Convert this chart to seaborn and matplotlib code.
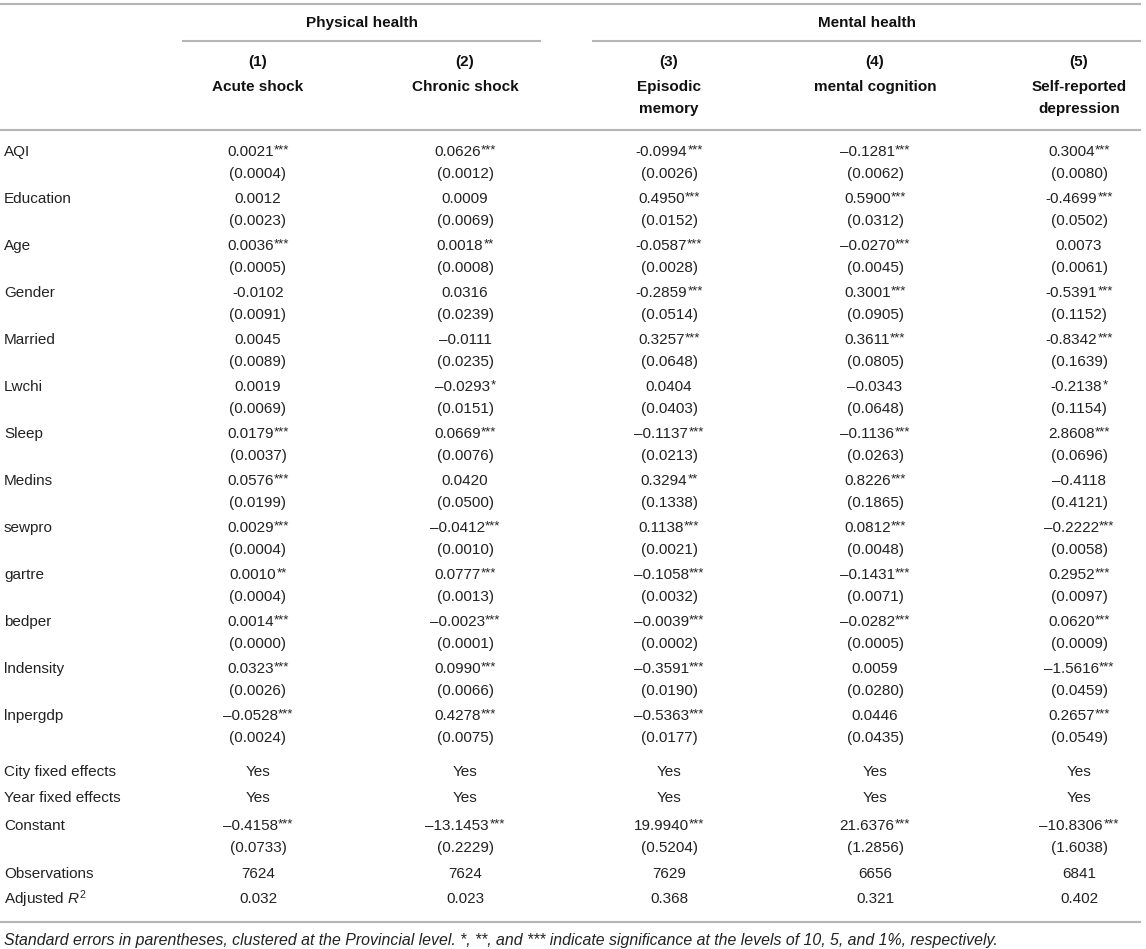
import matplotlib
matplotlib.use('agg')
import matplotlib.pyplot as plt
import seaborn as sns

# ---- table content ----
variables = ['AQI', 'Education', 'Age', 'Gender', 'Married', 'Lwchi', 'Sleep',
             'Medins', 'sewpro', 'gartre', 'bedper', 'lndensity', 'lnpergdp']

col_numbers = ['(1)', '(2)', '(3)', '(4)', '(5)']
col_titles = [['Acute shock'], ['Chronic shock'], ['Episodic', 'memory'],
              ['mental cognition'], ['Self-reported', 'depression']]
groups = ['Physical health', 'Mental health']

coef_1 = ['0.0021***', '0.0012', '0.0036***', '-0.0102', '0.0045', '0.0019', '0.0179***',
          '0.0576***', '0.0029***', '0.0010**', '0.0014***', '0.0323***', '\u20130.0528***']
se_1 = ['0.0004', '0.0023', '0.0005', '0.0091', '0.0089', '0.0069', '0.0037',
        '0.0199', '0.0004', '0.0004', '0.0000', '0.0026', '0.0024']

coef_2 = ['0.0626***', '0.0009', '0.0018**', '0.0316', '\u20130.0111', '\u20130.0293*', '0.0669***',
          '0.0420', '\u20130.0412***', '0.0777***', '\u20130.0023***', '0.0990***', '0.4278***']
se_2 = ['0.0012', '0.0069', '0.0008', '0.0239', '0.0235', '0.0151', '0.0076',
        '0.0500', '0.0010', '0.0013', '0.0001', '0.0066', '0.0075']

coef_3 = ['-0.0994***', '0.4950***', '-0.0587***', '-0.2859***', '0.3257***', '0.0404', '\u20130.1137***',
          '0.3294**', '0.1138***', '\u20130.1058***', '\u20130.0039***', '\u20130.3591***', '\u20130.5363***']
se_3 = ['0.0026', '0.0152', '0.0028', '0.0514', '0.0648', '0.0403', '0.0213',
        '0.1338', '0.0021', '0.0032', '0.0002', '0.0190', '0.0177']

coef_4 = ['\u20130.1281***', '0.5900***', '\u20130.0270***', '0.3001***', '0.3611***', '\u20130.0343', '\u20130.1136***',
          '0.8226***', '0.0812***', '\u20130.1431***', '\u20130.0282***', '0.0059', '0.0446']
se_4 = ['0.0062', '0.0312', '0.0045', '0.0905', '0.0805', '0.0648', '0.0263',
        '0.1865', '0.0048', '0.0071', '0.0005', '0.0280', '0.0435']

coef_5 = ['0.3004***', '-0.4699***', '0.0073', '-0.5391***', '-0.8342***', '-0.2138*', '2.8608***',
          '\u20130.4118', '\u20130.2222***', '0.2952***', '0.0620***', '\u20131.5616***', '0.2657***']
se_5 = ['0.0080', '0.0502', '0.0061', '0.1152', '0.1639', '0.1154', '0.0696',
        '0.4121', '0.0058', '0.0097', '0.0009', '0.0459', '0.0549']

city_fe = ['Yes', 'Yes', 'Yes', 'Yes', 'Yes']
year_fe = ['Yes', 'Yes', 'Yes', 'Yes', 'Yes']
constant = ['\u20130.4158***', '\u201313.1453***', '19.9940***', '21.6376***', '\u201310.8306***']
constant_se = ['0.0733', '0.2229', '0.5204', '1.2856', '1.6038']
observations = ['7624', '7624', '7629', '6656', '6841']
adj_r2 = ['0.032', '0.023', '0.368', '0.321', '0.402']

footnote = ('Standard errors in parentheses, clustered at the Provincial level. *, **, and *** '
            'indicate significance at the levels of 10, 5, and 1%, respectively.')

# ---- layout (pixels) ----
W, H = 1146, 949
COL_X = [258, 465, 669, 875, 1079]
LABEL_X = 4
GROUP_SPANS = [(182, 541), (592, 1141)]
ROW0, PITCH, SE_GAP = 152, 47, 22
FS = 11
STAR_FS = 9.5
RULE_C = '#b5b5b5'
TXT_C = '#222222'

sns.set_theme(style='white')
plt.rcParams['font.family'] = ['Liberation Sans', 'DejaVu Sans']
plt.rcParams['mathtext.fontset'] = 'custom'
plt.rcParams['mathtext.rm'] = 'Liberation Sans'
plt.rcParams['mathtext.it'] = 'Liberation Sans:italic'

fig = plt.figure(figsize=(W / 100, H / 100), dpi=100)
ax = fig.add_axes([0, 0, 1, 1])
ax.set_xlim(0, W)
ax.set_ylim(H, 0)
ax.axis('off')


def cell(x, y, s, bold=False):
    # split trailing significance stars, draw them small and raised
    stars = s[len(s.rstrip('*')):]
    num = s.rstrip('*')
    shift = len(stars) * 2.6
    t = ax.text(x - shift, y, num, ha='center', va='center', fontsize=FS,
                color=TXT_C, fontweight='bold' if bold else 'normal')
    if stars:
        ax.annotate(stars, xy=(1, 0.5), xycoords=t, xytext=(0.2, 1.2),
                    textcoords='offset points', ha='left', va='center',
                    fontsize=STAR_FS, color=TXT_C)
    return t


# rules
ax.hlines(4, 0, 1141, color=RULE_C, lw=1.5)
for (x0, x1) in GROUP_SPANS:
    ax.hlines(41, x0, x1, color=RULE_C, lw=1.5)
ax.hlines(130, 0, 1141, color=RULE_C, lw=1.5)
ax.hlines(922, 0, 1141, color=RULE_C, lw=1.5)

# header
for g, (x0, x1) in zip(groups, GROUP_SPANS):
    ax.text((x0 + x1) / 2, 23, g, ha='center', va='center',
            fontsize=FS, fontweight='bold', color='#111111')
for x, n, lines in zip(COL_X, col_numbers, col_titles):
    ax.text(x, 62, n, ha='center', va='center', fontsize=FS, fontweight='bold', color='#111111')
    for k, line in enumerate(lines):
        ax.text(x, 87 + k * 22, line, ha='center', va='center', fontsize=FS,
                fontweight='bold', color='#111111')

# body
coefs = [coef_1, coef_2, coef_3, coef_4, coef_5]
ses = [se_1, se_2, se_3, se_4, se_5]
for i, var in enumerate(variables):
    y = ROW0 + i * PITCH
    ax.text(LABEL_X, y, var, ha='left', va='center', fontsize=FS, color=TXT_C)
    for j, x in enumerate(COL_X):
        cell(x, y, coefs[j][i])
        cell(x, y + SE_GAP, '(' + ses[j][i] + ')')

extra = [('City fixed effects', city_fe, 772),
         ('Year fixed effects', year_fe, 798),
         ('Constant', constant, 826),
         ('Observations', observations, 874),
         ('Adjusted $\\mathit{R}^{2}$', adj_r2, 899)]
for label, vals, y in extra:
    ax.text(LABEL_X, y, label, ha='left', va='center', fontsize=FS, color=TXT_C)
    for x, v in zip(COL_X, vals):
        cell(x, y, v)
for x, v in zip(COL_X, constant_se):
    cell(x, 848, '(' + v + ')')

ax.text(LABEL_X, 940, footnote, ha='left', va='center', fontsize=11.4,
        style='italic', color=TXT_C)

fig.savefig('out.png', dpi=100, facecolor='white')
